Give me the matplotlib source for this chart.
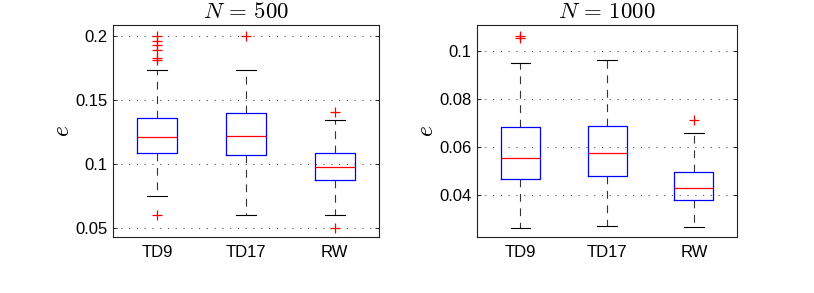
import matplotlib
matplotlib.use('Agg')
import matplotlib.pyplot as plt

plt.rcParams['font.family'] = ['Liberation Sans', 'DejaVu Sans']
plt.rcParams['mathtext.fontset'] = 'cm'

# —–––– Data —––––
methods = ['TD9', 'TD17', 'RW']

# N = 500
n500_whislo = [0.0751, 0.0606, 0.0606]
n500_q1 = [0.1083, 0.1075, 0.0873]
n500_med = [0.1215, 0.1218, 0.0980]
n500_q3 = [0.1360, 0.1402, 0.1083]
n500_whishi = [0.1733, 0.1733, 0.1342]
n500_fliers = [[0.2000, 0.1961, 0.1925, 0.1886, 0.1824, 0.1810, 0.0606],
               [0.2000],
               [0.1407, 0.0500]]

# N = 1000
n1000_whislo = [0.0264, 0.0272, 0.0267]
n1000_q1 = [0.0466, 0.0480, 0.0379]
n1000_med = [0.0554, 0.0576, 0.0429]
n1000_q3 = [0.0683, 0.0688, 0.0494]
n1000_whishi = [0.0949, 0.0964, 0.0659]
n1000_fliers = [[0.1064, 0.1055], [], [0.0713]]


def make_stats(whislo, q1, med, q3, whishi, fliers):
    stats = []
    for i in range(len(methods)):
        stats.append({'label': methods[i], 'whislo': whislo[i], 'q1': q1[i],
                      'med': med[i], 'q3': q3[i], 'whishi': whishi[i],
                      'fliers': fliers[i]})
    return stats


def draw_panel(ax, stats, title, ylim, yticks, yticklabels):
    ax.bxp(stats, positions=[1, 2, 3], widths=0.45, showfliers=True,
           boxprops=dict(color='#0000ff', linewidth=0.9),
           medianprops=dict(color='#ff0000', linewidth=0.9),
           whiskerprops=dict(color='#333333', linewidth=0.8, linestyle=(0, (7, 6))),
           capprops=dict(color='black', linewidth=0.8),
           flierprops=dict(marker='+', markeredgecolor='#ff0000', markersize=7,
                           markeredgewidth=0.9, linestyle='none'))
    ax.set_xlim(0.5, 3.5)
    ax.set_ylim(*ylim)
    ax.set_yticks(yticks)
    ax.set_yticklabels(yticklabels)
    ax.yaxis.grid(True, linestyle=(0, (1, 6)), color='#555555', linewidth=0.8)
    ax.set_axisbelow(True)
    ax.tick_params(axis='y', direction='in', right=True, length=3, width=0.6,
                   labelsize=12, pad=4)
    ax.tick_params(axis='x', length=0, labelsize=12, pad=6)
    for sp in ax.spines.values():
        sp.set_linewidth(0.8)
        sp.set_color('#222222')
    ax.set_title(title, fontsize=16.5, pad=5)
    ax.set_ylabel('$e$', fontsize=17, labelpad=1)


fig = plt.figure(figsize=(8.14, 2.93), dpi=100)
ax1 = fig.add_axes([0.1388, 0.1911, 0.3268, 0.7235])
ax2 = fig.add_axes([0.5860, 0.1911, 0.3198, 0.7235])

draw_panel(ax1, make_stats(n500_whislo, n500_q1, n500_med, n500_q3, n500_whishi, n500_fliers),
           '$N\\,=\\,500$', (0.0433, 0.2083),
           [0.05, 0.1, 0.15, 0.2], ['0.05', '0.1', '0.15', '0.2'])
draw_panel(ax2, make_stats(n1000_whislo, n1000_q1, n1000_med, n1000_q3, n1000_whishi, n1000_fliers),
           '$N\\,=\\,1000$', (0.0225, 0.1108),
           [0.04, 0.06, 0.08, 0.1], ['0.04', '0.06', '0.08', '0.1'])

fig.savefig('out.png', dpi=100)
